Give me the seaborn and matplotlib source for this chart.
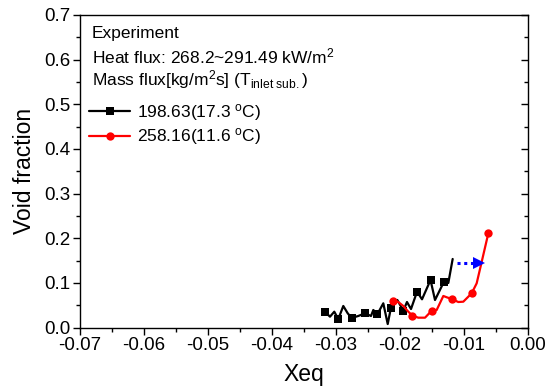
import matplotlib
matplotlib.use("Agg")
import matplotlib.pyplot as plt
import seaborn as sns
import pandas as pd
from matplotlib.ticker import MultipleLocator
from matplotlib.lines import Line2D

# 198.63 kg/m2s case (black)
xeq_198 = [-0.03172, -0.03094, -0.03027, -0.02964, -0.02886, -0.02817, -0.02755, -0.02652,
           -0.02547, -0.02453, -0.02417, -0.02352, -0.02261, -0.02192, -0.02141, -0.02042,
           -0.01948, -0.01891, -0.01828, -0.01734, -0.01656, -0.01523, -0.01453, -0.01313,
           -0.01245, -0.01177]
void_198 = [0.0354, 0.0242, 0.0354, 0.0190, 0.0482, 0.0318, 0.0213, 0.0258,
            0.0318, 0.0258, 0.0392, 0.0302, 0.0542, 0.0078, 0.0448, 0.0616,
            0.0376, 0.0571, 0.0414, 0.0802, 0.0632, 0.1064, 0.0616, 0.1026,
            0.0997, 0.1535]
marks_198 = [0, 3, 6, 8, 11, 14, 16, 19, 21, 23]

# 258.16 kg/m2s case (red)
xeq_258 = [-0.02114, -0.02027, -0.01948, -0.01870, -0.01805, -0.01714, -0.01609, -0.01505,
           -0.01427, -0.01323, -0.01270, -0.01192, -0.01089, -0.01011, -0.00880, -0.00802,
           -0.00723, -0.00620]
void_258 = [0.0594, 0.0571, 0.0482, 0.0354, 0.0264, 0.0220, 0.0220, 0.0376,
            0.0392, 0.0706, 0.0677, 0.0638, 0.0571, 0.0578, 0.0766, 0.0990,
            0.1474, 0.2110]
marks_258 = [0, 4, 7, 11, 14, 17]

labels = ['198.63(17.3 $^{\\mathrm{o}}$C)', '258.16(11.6 $^{\\mathrm{o}}$C)']

# shift arrow between the two curves
arrow_y = 0.145
arrow_x0, arrow_x1, arrow_head = -0.01114, -0.0081, -0.0077


def plot_void_fraction(save_path='out.png'):
    sns.set_theme(style='white')
    plt.rcParams['font.family'] = ['Liberation Sans', 'DejaVu Sans']
    plt.rcParams['mathtext.fontset'] = 'custom'
    plt.rcParams['mathtext.rm'] = 'Liberation Sans'
    plt.rcParams['mathtext.it'] = 'Liberation Sans:italic'

    fig = plt.figure(figsize=(5.47, 3.92), dpi=100)
    ax = fig.add_axes([80 / 547, 1 - 327.5 / 392, 448 / 547, 312.5 / 392])

    df1 = pd.DataFrame({'Xeq': xeq_198, 'Void': void_198})
    df2 = pd.DataFrame({'Xeq': xeq_258, 'Void': void_258})

    sns.lineplot(data=df1, x='Xeq', y='Void', sort=False, estimator=None, ax=ax,
                 color='black', linewidth=1.6, marker='s', markersize=5.5,
                 markeredgewidth=0, markevery=marks_198)
    sns.lineplot(data=df2, x='Xeq', y='Void', sort=False, estimator=None, ax=ax,
                 color='#ff0000', linewidth=1.6, marker='o', markersize=6,
                 markeredgewidth=0, markevery=marks_258)

    ax.plot([arrow_x0, arrow_x1], [arrow_y, arrow_y], color='#0000ff',
            linestyle=(0, (1, 1.2)), linewidth=2.2)
    ax.plot([arrow_head], [arrow_y], marker='>', color='#0000ff', markersize=9,
            markeredgewidth=0)

    ax.set_xlim(-0.07, 0.0)
    ax.set_ylim(0.0, 0.7)
    ax.xaxis.set_major_locator(MultipleLocator(0.01))
    ax.xaxis.set_minor_locator(MultipleLocator(0.005))
    ax.yaxis.set_major_locator(MultipleLocator(0.1))
    ax.yaxis.set_minor_locator(MultipleLocator(0.05))
    ax.xaxis.set_major_formatter(lambda v, p: f'{v:.2f}'.replace('-0.00', '0.00'))
    ax.yaxis.set_major_formatter(lambda v, p: f'{v:.1f}')

    ax.tick_params(axis='both', which='major', direction='out', length=5, width=1,
                   labelsize=13.5, colors='black', pad=2)
    ax.tick_params(axis='both', which='minor', direction='out', length=3, width=1,
                   colors='black')
    # right axis: inward ticks, no labels
    ax.tick_params(axis='y', which='both', right=True, labelright=False)
    ax.tick_params(axis='y', which='both', left=True)
    ax.tick_params(axis='x', which='both', bottom=True, top=False)
    for t in ax.yaxis.get_major_ticks() + ax.yaxis.get_minor_ticks():
        t.tick2line.set_marker(matplotlib.lines.TICKLEFT)

    for s in ax.spines.values():
        s.set_color('black')
        s.set_linewidth(1.0)

    ax.set_xlabel('Xeq', fontsize=16.5, color='black', labelpad=6)
    ax.set_ylabel('Void fraction', fontsize=16.5, color='black', labelpad=6)

    txt = dict(transform=ax.transAxes, fontsize=12.5, color='black', va='center', ha='left')
    ax.text(0.026, 0.942, 'Experiment', **txt)
    ax.text(0.026, 0.866, 'Heat flux: 268.2~291.49 kW/m$^2$', **txt)
    ax.text(0.026, 0.792, 'Mass flux[kg/m$^2$s] (T$_{\\mathrm{inlet\\ sub.}}$)', **txt)

    handles = [
        Line2D([], [], color='black', linewidth=1.6, marker='s', markersize=5.5, markeredgewidth=0),
        Line2D([], [], color='#ff0000', linewidth=1.6, marker='o', markersize=6, markeredgewidth=0),
    ]
    leg = ax.legend(handles, labels, loc='upper left', bbox_to_anchor=(0.004, 0.745),
                    frameon=False, fontsize=12.5, handlelength=2.4, handletextpad=0.4,
                    labelspacing=0.22, borderaxespad=0)
    for t in leg.get_texts():
        t.set_color('black')

    fig.savefig(save_path, dpi=100)


plot_void_fraction()
